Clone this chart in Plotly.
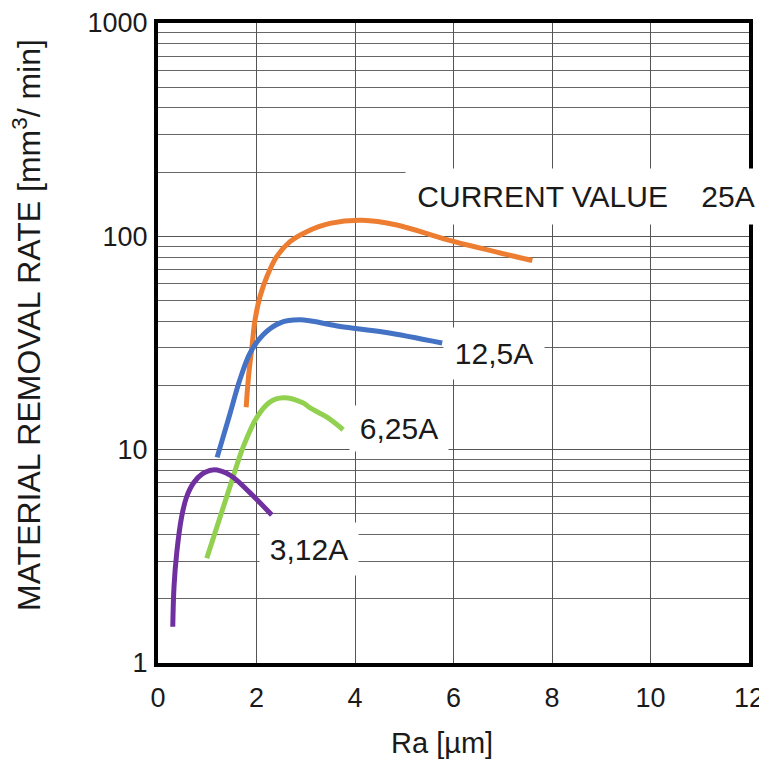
import plotly.graph_objects as go

# ---- data ----
ra_25 = [1.79, 1.84, 1.91, 1.97, 2.07, 2.21, 2.41, 2.68, 3.02, 3.49, 4.15, 4.85, 5.90, 7.60]
mrr_25 = [15.8, 22.2, 30.7, 40.6, 52.1, 64.7, 80.3, 94.4, 105.2, 115.0, 119.0, 113.0, 96.0, 77.0]

ra_125 = [1.20, 1.46, 1.66, 1.87, 2.13, 2.48, 2.88, 3.70, 4.60, 5.77]
mrr_125 = [9.2, 14.7, 21.2, 28.4, 34.5, 39.3, 40.6, 37.8, 35.5, 31.6]

ra_625 = [0.99, 1.46, 1.73, 2.01, 2.27, 2.54, 2.94, 3.09, 3.43, 3.76]
mrr_625 = [3.1, 6.7, 10.3, 14.2, 16.7, 17.5, 16.6, 15.7, 14.2, 12.4]

ra_312 = [0.30, 0.325, 0.38, 0.48, 0.58, 0.72, 0.90, 1.12, 1.46, 1.87, 2.31]
mrr_312 = [1.48, 2.28, 3.28, 4.85, 6.0, 6.98, 7.7, 8.04, 7.6, 6.27, 4.94]

x_ticks = [0, 2, 4, 6, 8, 10, 12]
y_ticks = [1, 10, 100, 1000]
y_minor = [m * d for d in (1, 10, 100) for m in range(2, 10)]

series = [
    (ra_25, mrr_25, "#ED7D31", "25A"),
    (ra_125, mrr_125, "#4472C4", "12,5A"),
    (ra_625, mrr_625, "#92D050", "6,25A"),
    (ra_312, mrr_312, "#7030A0", "3,12A"),
]

FONT = "Liberation Sans, Arial, sans-serif"
TXT = "#1a1a1a"

fig = go.Figure()
for xs, ys, col, name in series:
    fig.add_trace(go.Scatter(
        x=xs, y=ys, mode="lines", name=name,
        line=dict(color=col, width=5, shape="spline", smoothing=1.0),
        showlegend=False,
    ))

# page body has an 8px margin: build the figure 8px smaller and shifted
OFF = 8
W, H = 767 - OFF, 760 - OFF
L, R, T, B = 158 - OFF, 18, 23 - OFF, 97
pw, ph = W - L - R, H - T - B


def px(xp):
    return (xp - OFF - L) / pw


def py(yp):
    return (H - B - (yp - OFF)) / ph


NB = "\u00a0"
labels = [
    (NB + "CURRENT VALUE" + NB * 4 + "25A", 405, 168, 360, 49, "left"),
    ("12,5A", 443, 327, 94, 45, "center"),
    ("6,25A", 349, 405, 92, 39, "center"),
    ("3,12A", 259, 522, 92, 46, "center"),
]
for text, x0, y0, w, h, align in labels:
    fig.add_annotation(
        text=text, xref="paper", yref="paper",
        x=px(x0), y=py(y0), xanchor="left", yanchor="top",
        width=w, height=h, align=align, valign="middle",
        showarrow=False, bgcolor="white", borderpad=3,
        font=dict(family=FONT, size=30, color=TXT),
    )

# axis titles
fig.add_annotation(
    text="MATERIAL REMOVAL RATE [mm<sup>3</sup>/ min]", xref="paper", yref="paper",
    x=px(27), y=py(325), xanchor="center", yanchor="middle", textangle=-90,
    showarrow=False, font=dict(family=FONT, size=32, color=TXT),
)
fig.add_annotation(
    text="Ra [µm]", xref="paper", yref="paper",
    x=px(442), y=py(743), xanchor="center", yanchor="middle",
    showarrow=False, font=dict(family=FONT, size=29, color=TXT),
)

fig.update_layout(
    width=W, height=H,
    margin=dict(l=L, r=R, t=T, b=B, autoexpand=False),
    paper_bgcolor="white", plot_bgcolor="white",
    font=dict(family=FONT, size=27, color=TXT),
    xaxis=dict(
        range=[0, 12], tickvals=x_ticks, ticktext=[str(v) for v in x_ticks],
        showgrid=True, gridcolor="#555", gridwidth=1.2,
        showline=True, linecolor="black", linewidth=4, mirror=True,
        ticks="", ticklabelstandoff=8, zeroline=False, automargin=False,
        tickfont=dict(family=FONT, size=27, color=TXT),
    ),
    yaxis=dict(
        type="log", range=[0, 3], tickvals=y_ticks,
        ticktext=[str(v) for v in y_ticks],
        showgrid=True, gridcolor="#555", gridwidth=1.2,
        minor=dict(tickvals=y_minor, showgrid=True, gridcolor="#666", gridwidth=1.2, ticks=""),
        showline=True, linecolor="black", linewidth=4, mirror=True,
        ticks="", ticklabelstandoff=1, zeroline=False, automargin=False,
        tickfont=dict(family=FONT, size=27, color=TXT),
    ),
)

fig.write_html("out.html")
